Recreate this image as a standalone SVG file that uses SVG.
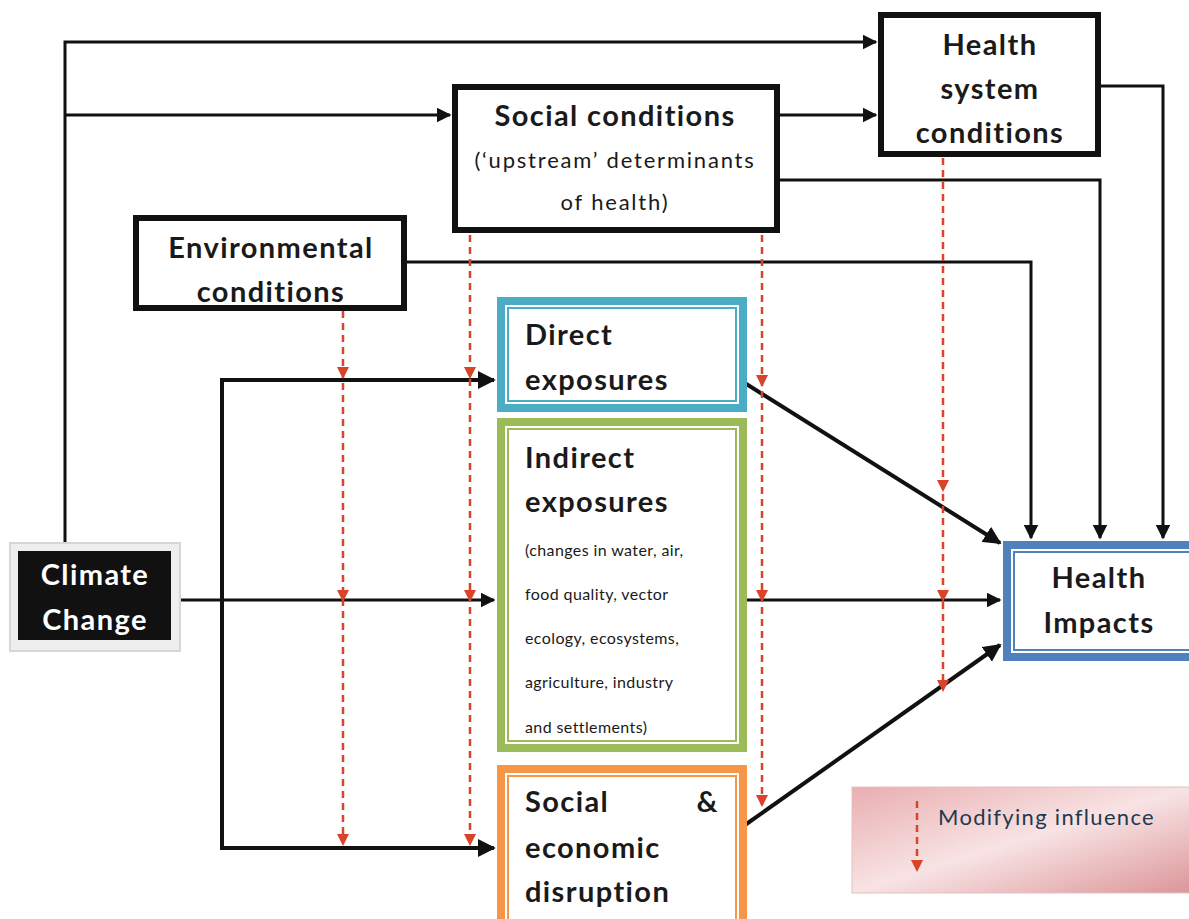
<svg xmlns="http://www.w3.org/2000/svg" width="1189" height="919" viewBox="0 0 1189 919">
<style>
text{font-family:Lato,"Open Sans","Liberation Sans",sans-serif;fill:#1a1a1a}
.b{font-weight:bold;font-size:29px;letter-spacing:1.4px}
.s{font-size:22px;letter-spacing:1.8px}
.xs{font-size:16px;letter-spacing:0.4px}
.lg{font-size:22px;letter-spacing:1.3px}
.box{fill:#fff;stroke:#111;stroke-width:6}
.con{fill:none;stroke:#111;stroke-width:3}
.con2{fill:none;stroke:#111;stroke-width:4}
.mod{fill:none;stroke:#d8432a;stroke-width:2.5;stroke-dasharray:7 5}
.rh{fill:#d8432a}
</style>
<defs>
<marker id="ah" viewBox="0 0 10 10" refX="9" refY="5" markerWidth="5" markerHeight="5" orient="auto" markerUnits="strokeWidth"><path d="M0,0 L10,5 L0,10 z" fill="#111"/></marker>
<marker id="ah2" viewBox="0 0 10 10" refX="9" refY="5" markerWidth="4.5" markerHeight="4.5" orient="auto" markerUnits="strokeWidth"><path d="M0,0 L10,5 L0,10 z" fill="#111"/></marker>
<linearGradient id="pink" x1="0" y1="0" x2="1" y2="1"><stop offset="0" stop-color="#e9aeb0"/><stop offset="0.5" stop-color="#f8e3e4"/><stop offset="1" stop-color="#dc9598"/></linearGradient>
</defs>
<rect width="1189" height="919" fill="#fff"/>

<g id="connectors">
<path class="con" d="M65,551 V42 H876" marker-end="url(#ah)"/>
<path class="con" d="M65,115 H450" marker-end="url(#ah)"/>
<path class="con" d="M780,115 H876" marker-end="url(#ah)"/>
<path class="con" d="M780,180 H1100 V538" marker-end="url(#ah)"/>
<path class="con" d="M1100,86 H1163 V538" marker-end="url(#ah)"/>
<path class="con" d="M406,262 H1031 V538" marker-end="url(#ah)"/>
<path class="con" d="M173,600 H494" marker-end="url(#ah)"/>
<path class="con2" d="M220,380 H494" marker-end="url(#ah2)"/>
<path class="con2" d="M222,378 V848 H494" marker-end="url(#ah2)"/>
<path class="con" d="M740,600 H1000" marker-end="url(#ah)"/>
<path class="con2" d="M740,380 L1000,543" marker-end="url(#ah2)"/>
<path class="con2" d="M745,825 L1000,645" marker-end="url(#ah2)"/>
<g id="modifying">
<path class="mod" d="M343,311 V840"/>
<path class="mod" d="M470,235 V840"/>
<path class="mod" d="M762,235 V805"/>
<path class="mod" d="M943,158 V688"/>
<path class="rh" d="M337,367 L349,367 L343,379 z M337,590 L349,590 L343,602 z M337,834 L349,834 L343,846 z"/>
<path class="rh" d="M464,367 L476,367 L470,379 z M464,590 L476,590 L470,602 z M464,834 L476,834 L470,846 z"/>
<path class="rh" d="M756,375 L768,375 L762,387 z M756,590 L768,590 L762,602 z M756,795 L768,795 L762,807 z"/>
<path class="rh" d="M937,480 L949,480 L943,492 z M937,590 L949,590 L943,602 z M937,680 L949,680 L943,692 z"/>
</g>
</g>

<g id="climate">
<rect x="10" y="543" width="170" height="108" fill="#eeeeee" stroke="#d6d6d6" stroke-width="2"/>
<rect x="18" y="551" width="153" height="89" fill="#111"/>
<text x="95" y="585" text-anchor="middle" class="b" style="fill:#fff">Climate</text>
<text x="95" y="630" text-anchor="middle" class="b" style="fill:#fff">Change</text>
</g>

<g id="health-system">
<rect class="box" x="881" y="15" width="217" height="139"/>
<text x="990" y="55" text-anchor="middle" class="b">Health</text>
<text x="990" y="99" text-anchor="middle" class="b">system</text>
<text x="990" y="143" text-anchor="middle" class="b">conditions</text>
</g>

<g id="social-conditions">
<rect class="box" x="455" y="87" width="322" height="143"/>
<text x="615" y="126" text-anchor="middle" class="b">Social conditions</text>
<text x="615" y="168" text-anchor="middle" class="s">(‘upstream’ determinants</text>
<text x="615" y="210" text-anchor="middle" class="s">of health)</text>
</g>

<g id="environmental">
<rect class="box" x="136" y="218" width="268" height="90"/>
<text x="271" y="258" text-anchor="middle" class="b">Environmental</text>
<text x="271" y="302" text-anchor="middle" class="b">conditions</text>
</g>

<g id="direct">
<rect x="501" y="301" width="242" height="107" fill="#fff" stroke="#4bacc6" stroke-width="8"/>
<rect x="508" y="308" width="228" height="93" fill="none" stroke="#4bacc6" stroke-width="2"/>
<text x="525" y="345" class="b">Direct</text>
<text x="525" y="390" class="b">exposures</text>
</g>

<g id="indirect">
<rect x="501" y="422" width="242" height="326" fill="#fff" stroke="#9bbb59" stroke-width="8"/>
<rect x="508" y="429" width="228" height="312" fill="none" stroke="#9bbb59" stroke-width="2"/>
<text x="525" y="468" class="b">Indirect</text>
<text x="525" y="512" class="b">exposures</text>
<text x="525" y="556" class="xs">(changes in water, air,</text>
<text x="525" y="600" class="xs">food quality, vector</text>
<text x="525" y="644" class="xs">ecology, ecosystems,</text>
<text x="525" y="688" class="xs">agriculture, industry</text>
<text x="525" y="733" class="xs">and settlements)</text>
</g>

<g id="disruption">
<rect x="501" y="769" width="242" height="160" fill="#fff" stroke="#f79646" stroke-width="8"/>
<rect x="508" y="776" width="228" height="146" fill="none" stroke="#f79646" stroke-width="2"/>
<text x="525" y="812" class="b">Social</text>
<text x="719" y="812" text-anchor="end" class="b">&amp;</text>
<text x="525" y="858" class="b">economic</text>
<text x="525" y="902" class="b">disruption</text>
</g>

<g id="health-impacts">
<rect x="1007" y="545" width="190" height="112" fill="#fff" stroke="#4f81bd" stroke-width="8"/>
<rect x="1014" y="552" width="190" height="98" fill="none" stroke="#4f81bd" stroke-width="2"/>
<text x="1099" y="588" text-anchor="middle" class="b">Health</text>
<text x="1099" y="633" text-anchor="middle" class="b">Impacts</text>
</g>

<g id="legend">
<rect x="852" y="787" width="340" height="106" fill="url(#pink)" stroke="#e6c0c2" stroke-width="1"/>
<path class="mod" d="M917,801 V868"/>
<path class="rh" d="M911,860 L923,860 L917,872 z"/>
<text x="938" y="825" class="lg" style="fill:#1f3a4d">Modifying influence</text>
</g>
</svg>
